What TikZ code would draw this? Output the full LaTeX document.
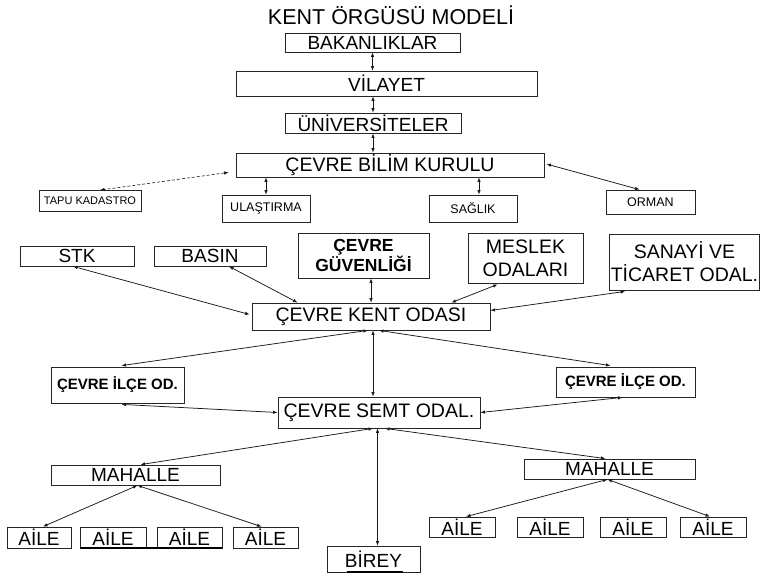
\documentclass[tikz,border=0pt]{standalone}
\usepackage{fontspec}
\setmainfont{Liberation Sans}
\usetikzlibrary{arrows.meta,calc}
\tikzset{
  box/.style={draw=black!85, line width=0.8pt, inner sep=0pt, align=center, fill=white},
  big/.style={font=\fontsize{19}{21}\selectfont},
  mid/.style={font=\fontsize{12.5}{14}\selectfont},
  small/.style={font=\fontsize{11}{12}\selectfont},
  conn/.style={line width=0.75pt, black!90, {Latex[length=4.5pt,width=3.5pt]}-{Latex[length=4.5pt,width=3.5pt]}},
}
\begin{document}
\begin{tikzpicture}[x=1pt,y=-1pt]
\useasboundingbox (0,0) rectangle (761,579);
% title
\node[font=\fontsize{21.5}{24}\selectfont] (title) at (391,15) {KENT ÖRGÜSÜ MODELİ};
% top chain
\node[box,big,minimum width=175pt,minimum height=19pt] (bak) at (372.5,42.5) {BAKANLIKLAR};
\node[box,big,minimum width=301pt,minimum height=25pt] (vil) at (386.5,83.5) {VİLAYET};
\node[box,big,minimum width=176pt,minimum height=20pt] (uni) at (373,123) {ÜNİVERSİTELER};
\node[box,big,minimum width=308pt,minimum height=24pt,font=\fontsize{19.5}{21}\selectfont] (cbk) at (390,165) {ÇEVRE BİLİM KURULU};
% second row
\node[box,small,minimum width=102pt,minimum height=21pt] (tapu) at (90,201) {TAPU KADASTRO};
\node[box,mid,minimum width=88pt,minimum height=27pt] (ulas) at (266,208.5) {ULAŞTIRMA};
\node[box,mid,minimum width=88pt,minimum height=27pt] (sag) at (473,208.5) {SAĞLIK};
\node[box,mid,minimum width=89pt,minimum height=24pt] (orm) at (650.5,202) {ORMAN};
% third row
\node[box,big,minimum width=114pt,minimum height=20pt] (stk) at (77,256) {STK};
\node[box,big,minimum width=112pt,minimum height=20pt] (basin) at (210,256) {BASIN};
\node[box,minimum width=131pt,minimum height=45pt,font=\fontsize{17.5}{20}\bfseries] (guv) at (363.5,255.5) {ÇEVRE\\GÜVENLİĞİ};
\node[box,minimum width=115pt,minimum height=50pt,font=\fontsize{19.5}{23}\selectfont] (mes) at (525.5,258) {MESLEK\\ODALARI};
\node[box,minimum width=150pt,minimum height=56pt,font=\fontsize{19.5}{23}\selectfont] (san) at (684.5,262) {SANAYİ VE\\TİCARET ODAL.};
% center
\node[box,minimum width=238pt,minimum height=27pt,font=\fontsize{19.5}{21}\selectfont] (cko) at (371,316.5) {ÇEVRE KENT ODASI};
\node[box,minimum width=133pt,minimum height=36pt,font=\fontsize{15}{17}\bfseries] (ilceL) at (117.5,385) {ÇEVRE İLÇE OD.};
\node[box,minimum width=139pt,minimum height=30pt,font=\fontsize{15}{17}\bfseries] (ilceR) at (625.5,382) {ÇEVRE İLÇE OD.};
\node[box,minimum width=202pt,minimum height=31pt,font=\fontsize{19.5}{21}\selectfont] (semt) at (379,412.5) {ÇEVRE SEMT ODAL.};
% lower
\node[box,big,minimum width=169pt,minimum height=20pt] (mahL) at (135.5,475) {MAHALLE};
\node[box,big,minimum width=171pt,minimum height=20pt] (mahR) at (609.5,469) {MAHALLE};
\node[box,big,minimum width=64pt,minimum height=21pt] (aL1) at (39,537.5) {AİLE};
\node[box,big,minimum width=66pt,minimum height=21pt] (aL2) at (113,537.5) {AİLE};
\node[box,big,minimum width=65pt,minimum height=21pt] (aL3) at (189.5,537.5) {AİLE};
\node[box,big,minimum width=65pt,minimum height=21pt] (aL4) at (265.5,537.5) {AİLE};
\node[box,big,minimum width=66pt,minimum height=20pt] (aR1) at (462,527) {AİLE};
\node[box,big,minimum width=66pt,minimum height=20pt] (aR2) at (550,527) {AİLE};
\node[box,big,minimum width=66pt,minimum height=20pt] (aR3) at (633,527) {AİLE};
\node[box,big,minimum width=66pt,minimum height=20pt] (aR4) at (713,527) {AİLE};
\node[box,big,minimum width=93pt,minimum height=26pt] (birey) at (373.5,559) {BİREY};
% thick underlines
\draw[line width=2pt] (aL2.south west) -- (aL3.south east);
\draw[line width=2pt] ($(birey.south west)+(20,0)$) -- ($(birey.south east)+(-17,0)$);
% connectors
\draw[conn] (bak.south) -- (bak.south |- vil.north);
\draw[conn] (uni.north) -- (uni.north |- vil.south);
\draw[conn] (uni.south) -- (uni.south |- cbk.north);
\draw[conn,densely dashed,line width=0.6pt] ($(cbk.south west)+(-7,-5)$) -- ($(tapu.north)+(10,0)$);
\draw[conn] (ulas.north) -- (ulas.north |- cbk.south);
\draw[conn] ($(sag.north)+(6,0)$) -- ($(sag.north |- cbk.south)+(6,0)$);
\draw[conn] ($(cbk.east)+(2,-1)$) -- ($(orm.north)+(-11,0)$);
\draw[conn] ($(stk.south)+(-4,0)$) -- ($(cko.west)+(-2,-2)$);
\draw[conn] ($(basin.south)+(19,0)$) -- ($(cko.north west)+(46,0)$);
\draw[conn] (guv.south -| cko.north) -- (cko.north);
\draw[conn] ($(mes.south west)+(30,1)$) -- ($(cko.north east)+(-39,0)$);
\draw[conn] ($(san.south west)+(16,1)$) -- ($(cko.east)+(0,-6)$);
\draw[conn] ($(cko.south)+(-3,0)$) -- ($(ilceL.north)+(4,-1)$);
\draw[conn] ($(cko.south)+(8,0)$) -- ($(ilceR.north)+(-15,-1)$);
\draw[conn] ($(cko.south)+(2,0)$) -- ($(cko.south |- semt.north)+(2,0)$);
\draw[conn] ($(ilceL.south)+(4,1)$) -- (semt.west);
\draw[conn] ($(ilceR.south)+(-3,0)$) -- (semt.east);
\draw[conn] ($(semt.south)+(-6,0)$) -- ($(mahL.north)+(5,0)$);
\draw[conn] ($(semt.south)+(6,0)$) -- ($(mahR.north)+(-4,0)$);
\draw[conn] ($(birey.north)+(4,0)$) -- ($(birey.north |- semt.south)+(4,0)$);
\draw[conn] ($(mahL.south)+(2,0)$) -- ($(aL1.north)+(4,0)$);
\draw[conn] ($(mahL.south)+(2,0)$) -- ($(aL4.north)+(-4,0)$);
\draw[conn] ($(mahR.south)+(-2,0)$) -- ($(aR1.north)+(4,0)$);
\draw[conn] ($(mahR.south)+(-2,0)$) -- ($(aR4.north)+(-3,0)$);
\end{tikzpicture}
\end{document}
